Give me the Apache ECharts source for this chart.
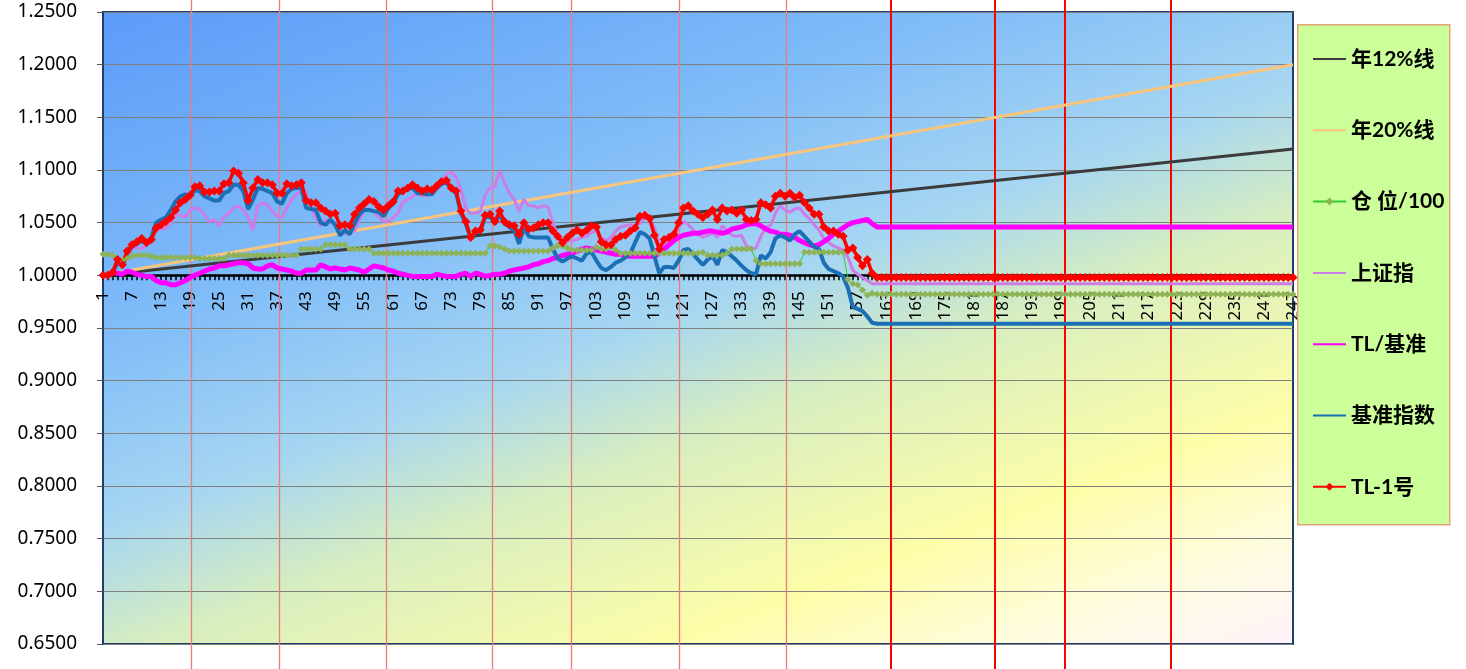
<!DOCTYPE html>
<html><head><meta charset="utf-8">
<script src="https://cdn.jsdelivr.net/npm/echarts@6/dist/echarts.min.js"></script>
<style>html,body{margin:0;padding:0;background:#fff}#c{width:1466px;height:669px}</style>
</head><body><div id="c"></div>
<script>
// ---------------- data ----------------
const categories = [];
for (let i = 1; i <= 247; i++) categories.push(String(i));

const yTicks = { min: 0.65, max: 1.25, step: 0.05 };

// straight reference lines (start / end points)
const line12 = [['1', 1.000], ['247', 1.120]];
const line20 = [['1', 1.000], ['247', 1.200]];

const positionPct = [
1.020,1.020,1.019,1.016,1.014,1.016,1.018,1.019,1.019,1.019,
1.018,1.017,1.017,1.017,1.017,1.017,1.017,1.017,1.017,1.017,
1.016,1.016,1.016,1.016,1.016,1.016,1.019,1.019,1.019,1.019,
1.019,1.019,1.019,1.019,1.019,1.019,1.019,1.019,1.019,1.019,
1.019,1.025,1.025,1.025,1.025,1.025,1.029,1.029,1.029,1.029,
1.029,1.025,1.025,1.025,1.025,1.025,1.021,1.021,1.021,1.021,
1.021,1.021,1.021,1.021,1.021,1.021,1.021,1.021,1.021,1.021,
1.021,1.021,1.021,1.021,1.021,1.021,1.021,1.021,1.021,1.021,
1.028,1.028,1.027,1.025,1.023,1.023,1.023,1.023,1.023,1.023,
1.023,1.023,1.023,1.026,1.028,1.028,1.026,1.024,1.024,1.024,
1.024,1.024,1.027,1.025,1.025,1.027,1.024,1.021,1.021,1.021,
1.021,1.021,1.021,1.021,1.021,1.021,1.021,1.021,1.021,1.021,
1.021,1.021,1.021,1.021,1.022,1.019,1.019,1.019,1.019,1.021,
1.025,1.025,1.025,1.025,1.025,1.014,1.011,1.011,1.011,1.011,
1.011,1.011,1.011,1.011,1.011,1.022,1.022,1.022,1.022,1.022,
1.022,1.022,1.022,1.022,0.996,0.992,0.991,0.986,0.981,0.983,
0.982,
0.982,0.982,0.982,0.982,0.982,0.982,0.982,0.982,0.982,0.982,
0.982,0.982,0.982,0.982,0.982,0.982,0.982,0.982,0.982,0.982,
0.982,0.982,0.982,0.982,0.982,0.982,0.982,0.982,0.982,0.982,
0.982,0.982,0.982,0.982,0.982,0.982,0.982,0.982,0.982,0.982,
0.982,0.982,0.982,0.982,0.982,0.982,0.982,0.982,0.982,0.982,
0.982,0.982,0.982,0.982,0.982,0.982,0.982,0.982,0.982,0.982,
0.982,0.982,0.982,0.982,0.982,0.982,0.982,0.982,0.982,0.982,
0.982,0.982,0.982,0.982,0.982,0.982,0.982,0.982,0.982,0.982,
0.982,0.982,0.982,0.982,0.982,0.982
];

const shIndex = [
1.000,1.000,1.004,1.012,1.010,1.020,1.025,1.027,1.025,1.029,
1.036,1.043,1.044,1.045,1.050,1.058,1.057,1.055,1.062,1.064,
1.063,1.057,1.051,1.053,1.047,1.056,1.059,1.064,1.066,1.062,
1.055,1.043,1.066,1.069,1.067,1.061,1.056,1.055,1.064,1.072,
1.077,1.080,1.078,1.064,1.055,1.047,1.053,1.050,1.050,1.044,
1.039,1.041,1.042,1.053,1.062,1.063,1.060,1.056,1.051,1.051,
1.055,1.059,1.070,1.072,1.075,1.078,1.075,1.076,1.077,1.081,
1.088,1.096,1.098,1.093,1.082,1.063,1.059,1.059,1.061,1.076,
1.083,1.084,1.099,1.088,1.078,1.072,1.061,1.072,1.066,1.066,
1.064,1.066,1.065,1.050,1.038,1.034,1.032,1.033,1.034,1.036,
1.037,1.041,1.042,1.036,1.033,1.036,1.042,1.046,1.047,1.048,
1.047,1.049,1.055,1.053,1.045,1.027,1.030,1.032,1.036,1.045,
1.051,1.048,1.043,1.039,1.036,1.038,1.040,1.036,1.047,1.043,
1.038,1.037,1.038,1.028,1.025,1.026,1.037,1.046,1.047,1.059,
1.066,1.062,1.060,1.063,1.064,1.058,1.054,1.048,1.043,1.035,
1.031,1.028,1.026,1.024,1.017,1.005,1.001,0.998,0.995,0.992,
0.992,
0.992,0.992,0.992,0.992,0.992,0.992,0.992,0.992,0.992,0.992,
0.992,0.992,0.992,0.992,0.992,0.992,0.992,0.992,0.992,0.992,
0.992,0.992,0.992,0.992,0.992,0.992,0.992,0.992,0.992,0.992,
0.992,0.992,0.992,0.992,0.992,0.992,0.992,0.992,0.992,0.992,
0.992,0.992,0.992,0.992,0.992,0.992,0.992,0.992,0.992,0.992,
0.992,0.992,0.992,0.992,0.992,0.992,0.992,0.992,0.992,0.992,
0.992,0.992,0.992,0.992,0.992,0.992,0.992,0.992,0.992,0.992,
0.992,0.992,0.992,0.992,0.992,0.992,0.992,0.992,0.992,0.992,
0.992,0.992,0.992,0.992,0.992,0.992
];

const tlRatio = [
1.000,1.000,1.003,1.002,1.001,1.004,1.003,1.001,1.000,0.999,
0.999,0.995,0.993,0.993,0.991,0.991,0.993,0.995,0.998,1.000,
1.002,1.004,1.006,1.007,1.009,1.009,1.010,1.011,1.012,1.012,
1.011,1.007,1.006,1.006,1.009,1.010,1.007,1.006,1.005,1.004,
1.002,1.002,1.005,1.005,1.005,1.010,1.008,1.006,1.007,1.006,
1.005,1.007,1.006,1.005,1.003,1.006,1.009,1.008,1.007,1.005,
1.004,1.002,1.001,1.000,0.999,0.999,0.999,0.999,0.999,1.001,
1.000,0.999,0.999,0.999,1.001,1.002,0.999,1.002,1.001,0.999,
1.000,1.001,1.001,1.002,1.004,1.005,1.006,1.007,1.008,1.010,
1.011,1.013,1.014,1.016,1.017,1.019,1.020,1.021,1.023,1.025,
1.026,1.025,1.024,1.023,1.022,1.021,1.020,1.020,1.019,1.018,
1.018,1.018,1.018,1.018,1.018,1.021,1.025,1.029,1.033,1.036,
1.038,1.039,1.040,1.040,1.041,1.042,1.042,1.041,1.040,1.041,
1.044,1.045,1.046,1.048,1.049,1.049,1.047,1.044,1.042,1.041,
1.039,1.039,1.038,1.036,1.033,1.031,1.029,1.028,1.029,1.032,
1.035,1.039,1.042,1.045,1.048,1.050,1.051,1.052,1.053,1.049,
1.046,
1.046,1.046,1.046,1.046,1.046,1.046,1.046,1.046,1.046,1.046,
1.046,1.046,1.046,1.046,1.046,1.046,1.046,1.046,1.046,1.046,
1.046,1.046,1.046,1.046,1.046,1.046,1.046,1.046,1.046,1.046,
1.046,1.046,1.046,1.046,1.046,1.046,1.046,1.046,1.046,1.046,
1.046,1.046,1.046,1.046,1.046,1.046,1.046,1.046,1.046,1.046,
1.046,1.046,1.046,1.046,1.046,1.046,1.046,1.046,1.046,1.046,
1.046,1.046,1.046,1.046,1.046,1.046,1.046,1.046,1.046,1.046,
1.046,1.046,1.046,1.046,1.046,1.046,1.046,1.046,1.046,1.046,
1.046,1.046,1.046,1.046,1.046,1.046
];

const benchIndex = [
1.000,1.000,1.003,1.012,1.009,1.021,1.027,1.030,1.033,1.030,
1.036,1.050,1.053,1.055,1.062,1.070,1.075,1.077,1.075,1.081,
1.080,1.075,1.073,1.071,1.071,1.078,1.080,1.086,1.086,1.080,
1.063,1.072,1.083,1.082,1.080,1.078,1.070,1.068,1.078,1.082,
1.083,1.083,1.064,1.063,1.062,1.050,1.048,1.053,1.048,1.038,
1.043,1.039,1.049,1.058,1.062,1.062,1.061,1.060,1.056,1.064,
1.068,1.077,1.080,1.082,1.083,1.078,1.078,1.077,1.077,1.083,
1.087,1.088,1.082,1.078,1.059,1.049,1.035,1.040,1.042,1.055,
1.056,1.049,1.058,1.049,1.046,1.043,1.030,1.045,1.037,1.036,
1.036,1.036,1.036,1.025,1.016,1.013,1.016,1.018,1.016,1.014,
1.021,1.022,1.014,1.007,1.005,1.008,1.012,1.014,1.017,1.021,
1.031,1.041,1.039,1.035,1.018,1.002,1.008,1.008,1.007,1.014,
1.024,1.025,1.020,1.015,1.010,1.015,1.018,1.010,1.024,1.022,
1.018,1.014,1.009,1.005,1.002,1.001,1.019,1.016,1.022,1.035,
1.038,1.036,1.033,1.039,1.042,1.037,1.032,1.027,1.025,1.012,
1.006,1.004,1.002,0.999,0.988,0.970,0.968,0.966,0.961,0.955,
0.954,
0.954,0.954,0.954,0.954,0.954,0.954,0.954,0.954,0.954,0.954,
0.954,0.954,0.954,0.954,0.954,0.954,0.954,0.954,0.954,0.954,
0.954,0.954,0.954,0.954,0.954,0.954,0.954,0.954,0.954,0.954,
0.954,0.954,0.954,0.954,0.954,0.954,0.954,0.954,0.954,0.954,
0.954,0.954,0.954,0.954,0.954,0.954,0.954,0.954,0.954,0.954,
0.954,0.954,0.954,0.954,0.954,0.954,0.954,0.954,0.954,0.954,
0.954,0.954,0.954,0.954,0.954,0.954,0.954,0.954,0.954,0.954,
0.954,0.954,0.954,0.954,0.954,0.954,0.954,0.954,0.954,0.954,
0.954,0.954,0.954,0.954,0.954,0.954
];

const tl1 = [
1.000,1.000,1.003,1.015,1.010,1.023,1.029,1.032,1.035,1.031,
1.034,1.045,1.048,1.051,1.055,1.062,1.069,1.072,1.076,1.084,
1.085,1.079,1.079,1.080,1.080,1.087,1.088,1.099,1.097,1.088,
1.071,1.083,1.091,1.088,1.088,1.086,1.078,1.078,1.087,1.085,
1.086,1.088,1.071,1.069,1.069,1.064,1.061,1.058,1.059,1.047,
1.048,1.047,1.058,1.064,1.068,1.072,1.070,1.065,1.062,1.066,
1.070,1.080,1.080,1.083,1.086,1.083,1.080,1.082,1.081,1.085,
1.089,1.090,1.083,1.080,1.061,1.051,1.036,1.042,1.043,1.057,
1.058,1.051,1.061,1.051,1.048,1.047,1.039,1.050,1.044,1.045,
1.048,1.050,1.050,1.042,1.037,1.031,1.036,1.040,1.043,1.040,
1.043,1.047,1.046,1.032,1.029,1.029,1.034,1.037,1.038,1.042,
1.045,1.056,1.057,1.054,1.038,1.025,1.034,1.036,1.039,1.050,
1.064,1.066,1.061,1.058,1.055,1.058,1.062,1.053,1.064,1.061,
1.062,1.059,1.062,1.053,1.052,1.053,1.069,1.067,1.064,1.075,
1.078,1.075,1.078,1.074,1.076,1.069,1.064,1.058,1.058,1.046,
1.042,1.042,1.039,1.037,1.024,1.026,1.017,1.009,1.015,1.002,
0.998,
0.998,0.998,0.998,0.998,0.998,0.998,0.998,0.998,0.998,0.998,
0.998,0.998,0.998,0.998,0.998,0.998,0.998,0.998,0.998,0.998,
0.998,0.998,0.998,0.998,0.998,0.998,0.998,0.998,0.998,0.998,
0.998,0.998,0.998,0.998,0.998,0.998,0.998,0.998,0.998,0.998,
0.998,0.998,0.998,0.998,0.998,0.998,0.998,0.998,0.998,0.998,
0.998,0.998,0.998,0.998,0.998,0.998,0.998,0.998,0.998,0.998,
0.998,0.998,0.998,0.998,0.998,0.998,0.998,0.998,0.998,0.998,
0.998,0.998,0.998,0.998,0.998,0.998,0.998,0.998,0.998,0.998,
0.998,0.998,0.998,0.998,0.998,0.998
];

// vertical marker lines (positions on the day axis)
const lightMarks = [19.2, 37.4, 59.6, 81.4, 97.8, 120.1, 142.2];
const darkMarks = [163.8, 185.3, 199.9, 221.7];

// ---------------- chart ----------------
const chart = echarts.init(document.getElementById('c'), null, { renderer: 'canvas' });
const latin = 'Lato, "Noto Sans CJK SC", sans-serif';

const option = {
  animation: false,
  backgroundColor: '#ffffff',
  grid: {
    left: 103, right: 173, top: 12, bottom: 25,
    outerBoundsMode: 'none', containLabel: false,
    show: true,
    borderColor: '#1f3c6e', borderWidth: 2,
    backgroundColor: {
      type: 'linear', x: 0, y: 0, x2: 0.299, y2: 1.496,
      colorStops: [
        { offset: 0, color: '#5b9bf9' },
        { offset: 0.3, color: '#80bcf8' },
        { offset: 0.48, color: '#a6d6f1' },
        { offset: 0.6, color: '#d8eec0' },
        { offset: 0.78, color: '#fdfda8' },
        { offset: 0.9, color: '#fffce0' },
        { offset: 1, color: '#fff3fb' }
      ]
    }
  },
  xAxis: [{
    type: 'category', data: categories, boundaryGap: false, position: 'bottom',
    axisLine: { onZero: false, lineStyle: { color: '#000', width: 2.5 } },
    axisTick: { show: true, interval: 0, length: 5, lineStyle: { color: '#000', width: 1.5 } },
    axisLabel: { interval: 5, rotate: 90, fontSize: 17, color: '#000', margin: 16, fontFamily: 'Noto Sans' },
    splitLine: { show: false }
  }, {
    type: 'value', min: 1, max: 247, show: false
  }],
  yAxis: {
    type: 'value', min: yTicks.min, max: yTicks.max, interval: yTicks.step,
    axisLine: { show: true, lineStyle: { color: '#1f3c6e', width: 2 } },
    axisTick: { show: true, length: 6, lineStyle: { color: '#555' } },
    axisLabel: { formatter: v => v.toFixed(4), fontSize: 19, color: '#000', margin: 26, fontFamily: 'Noto Sans' },
    splitLine: { show: true, lineStyle: { color: '#808080', width: 1 } }
  },
  legend: {
    orient: 'vertical', left: 1312, top: 48, padding: 0,
    itemWidth: 33, itemHeight: 10, itemGap: 49.3,
    textStyle: { fontSize: 21, fontWeight: 'bold', color: '#000', fontFamily: latin, lineHeight: 22 },
    data: [
      { name: '年12%线', itemStyle: { opacity: 0 } },
      { name: '年20%线', itemStyle: { opacity: 0 } },
      { name: '仓 位/100' },
      { name: '上证指', itemStyle: { opacity: 0 } },
      { name: 'TL/基准', itemStyle: { opacity: 0 } },
      { name: '基准指数', itemStyle: { opacity: 0 } },
      { name: 'TL-1号' }
    ]
  },
  series: [
    { name: '年12%线', type: 'line', data: line12, symbol: 'none',
      lineStyle: { color: '#3b3b3b', width: 3 }, itemStyle: { color: '#3b3b3b' } },
    { name: '年20%线', type: 'line', data: line20, symbol: 'none',
      lineStyle: { color: '#f9c57d', width: 3 }, itemStyle: { color: '#f9c57d' } },
    { name: '仓 位/100', type: 'line', data: positionPct, symbol: 'diamond', symbolSize: 7, showAllSymbol: true,
      lineStyle: { color: '#2ecc2e', width: 1 }, itemStyle: { color: '#8db356' } },
    { name: '上证指', type: 'line', data: shIndex, symbol: 'none',
      lineStyle: { color: '#cc7de8', width: 3 }, itemStyle: { color: '#cc7de8' } },
    { name: 'TL/基准', type: 'line', data: tlRatio, symbol: 'none',
      lineStyle: { color: '#ff00ff', width: 5 }, itemStyle: { color: '#ff00ff' } },
    { name: '基准指数', type: 'line', data: benchIndex, symbol: 'none',
      lineStyle: { color: '#1b6fb5', width: 4 }, itemStyle: { color: '#1b6fb5' } },
    { name: 'TL-1号', type: 'line', data: tl1, symbol: 'diamond', symbolSize: 9, showAllSymbol: true,
      lineStyle: { color: '#ff0000', width: 3.5 }, itemStyle: { color: '#ff0000' } }
  ]
};
chart.setOption(option);

// place the category axis so it crosses at 1.0000, and draw the month marker lines
function placeAxis() {
  const yOne = chart.convertToPixel({ yAxisIndex: 0 }, 1.0);
  const yBottom = chart.convertToPixel({ yAxisIndex: 0 }, yTicks.min);
  chart.setOption({ xAxis: [{ offset: -(yBottom - yOne) }, {}] });
}
placeAxis();
placeAxis();

const H = chart.getHeight();
const elems = [{
  type: 'rect', left: 1297, top: 24, z: 1, silent: true,
  shape: { width: 152, height: 500 },
  style: { fill: '#ccff99', stroke: '#e3a47a', lineWidth: 1.5 }
}];
lightMarks.forEach(p => {
  const x = Math.round(chart.convertToPixel({ xAxisIndex: 1 }, p)) + 0.5;
  elems.push({ type: 'line', z: 1, silent: true, shape: { x1: x, y1: 0, x2: x, y2: H },
    style: { stroke: '#f07a7a', lineWidth: 1.3 } });
});
darkMarks.forEach(p => {
  const x = Math.round(chart.convertToPixel({ xAxisIndex: 1 }, p));
  elems.push({ type: 'line', z: 1, silent: true, shape: { x1: x, y1: 0, x2: x, y2: H },
    style: { stroke: '#ff0000', lineWidth: 2 } });
});
chart.setOption({ graphic: { elements: elems } });
</script>
</body></html>
